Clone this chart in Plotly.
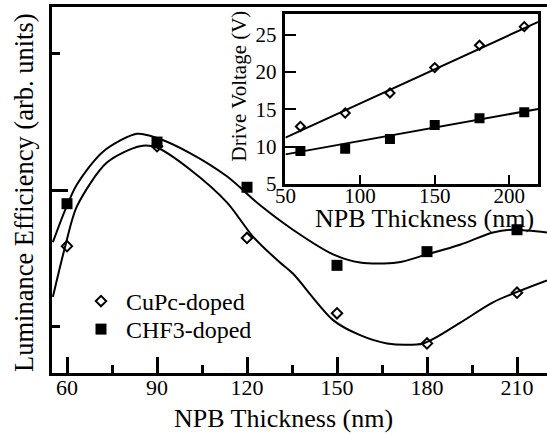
import plotly.graph_objects as go

# ---------------- data (main plot) ----------------
thickness = [60, 90, 120, 150, 180, 210]
cupc_eff = [1.59, 2.32, 1.65, 1.10, 0.88, 1.25]
chf3_eff = [1.90, 2.35, 2.02, 1.45, 1.55, 1.71]

# fitted curves
cupc_fit_x = [55.3, 59.3, 63.3, 73.3, 84.3, 90, 101, 113.3, 122, 131, 135.3, 148.7, 157.7, 166.7, 178.7, 191, 202, 220]
cupc_fit_y = [1.22, 1.58, 1.88, 2.20, 2.32, 2.31, 2.15, 1.91, 1.66, 1.47, 1.39, 1.05, 0.94, 0.88, 0.88, 1.03, 1.18, 1.34]
chf3_fit_x = [55.3, 59.3, 63.3, 72, 83.3, 90, 101, 113.3, 124.3, 135.3, 148.7, 157.7, 170, 180, 191, 202, 208.7, 220]
chf3_fit_y = [1.62, 1.85, 2.04, 2.28, 2.41, 2.38, 2.27, 2.10, 1.89, 1.71, 1.53, 1.47, 1.47, 1.53, 1.60, 1.69, 1.71, 1.69]

# ---------------- data (inset) ----------------
inset_thickness = [60, 90, 120, 150, 180, 210]
cupc_voltage = [12.7, 14.5, 17.2, 20.6, 23.6, 26.1]
chf3_voltage = [9.4, 9.7, 11.0, 12.9, 13.8, 14.6]
inset_fit_x = [50, 219.4]
cupc_voltage_fit = [11.2, 26.75]
chf3_voltage_fit = [8.95, 15.05]

main_xticks = [60, 90, 120, 150, 180, 210]
main_xminor = [75, 105, 135, 165, 195]
inset_xticks = [50, 100, 150, 200]
inset_yticks = [5, 10, 15, 20, 25]

FONT = "Liberation Serif, Times New Roman, serif"
W, H = 547, 435
ML, MR, MT, MB = 52, 0, 7, 62
PW, PH = W - ML - MR, H - MT - MB


def px_x(p):
    return (p - ML) / PW


def px_y(p):
    return (H - MB - p) / PH


fig = go.Figure()

# main curves
fig.add_trace(go.Scatter(x=cupc_fit_x, y=cupc_fit_y, mode="lines", line=dict(color="black", width=2, shape="spline", smoothing=0.8),
                         showlegend=False, hoverinfo="skip"))
fig.add_trace(go.Scatter(x=chf3_fit_x, y=chf3_fit_y, mode="lines", line=dict(color="black", width=2, shape="spline", smoothing=0.8),
                         showlegend=False, hoverinfo="skip"))
fig.add_trace(go.Scatter(x=thickness, y=cupc_eff, mode="markers", name="CuPc-doped", legend="legend",
                         marker=dict(symbol="diamond-open", size=8, color="black", line=dict(width=2, color="black"))))
fig.add_trace(go.Scatter(x=thickness, y=chf3_eff, mode="markers", name="CHF3-doped", legend="legend2",
                         marker=dict(symbol="square", size=11, color="black")))

# inset
fig.add_trace(go.Scatter(x=inset_fit_x, y=cupc_voltage_fit, mode="lines", xaxis="x2", yaxis="y2",
                         line=dict(color="black", width=2), showlegend=False, hoverinfo="skip"))
fig.add_trace(go.Scatter(x=inset_fit_x, y=chf3_voltage_fit, mode="lines", xaxis="x2", yaxis="y2",
                         line=dict(color="black", width=2), showlegend=False, hoverinfo="skip"))
fig.add_trace(go.Scatter(x=inset_thickness, y=cupc_voltage, mode="markers", xaxis="x2", yaxis="y2", showlegend=False,
                         marker=dict(symbol="diamond-open", size=7, color="black", line=dict(width=2, color="black"))))
fig.add_trace(go.Scatter(x=inset_thickness, y=chf3_voltage, mode="markers", xaxis="x2", yaxis="y2", showlegend=False,
                         marker=dict(symbol="square", size=10, color="black")))

legend_style = dict(xanchor="left", yanchor="top", bgcolor="rgba(0,0,0,0)",
                    font=dict(size=24, family=FONT), itemwidth=40)

fig.update_layout(
    width=W, height=H,
    margin=dict(l=ML, r=MR, t=MT, b=MB, pad=0),
    paper_bgcolor="white", plot_bgcolor="rgba(0,0,0,0)",
    font=dict(family=FONT, color="black", size=22),
    xaxis=dict(range=[55, 220], domain=[0, 1], showline=True, linewidth=3, linecolor="black", mirror=True,
               ticks="inside", ticklen=16, tickwidth=2.5, tickcolor="black", tickvals=main_xticks,
               minor=dict(tickvals=main_xminor, ticks="inside", ticklen=8, tickwidth=2.5, tickcolor="black"),
               tickfont=dict(size=22, family=FONT), showgrid=False, zeroline=False, ticklabelstandoff=-7),
    yaxis=dict(range=[0.664, 3.336], domain=[0, 1], showline=True, linewidth=3, linecolor="black", mirror=False,
               ticks="inside", ticklen=16, tickwidth=2.5, tickcolor="black", tickvals=[2],
               minor=dict(tickvals=[1, 3], ticks="inside", ticklen=8, tickwidth=2.5, tickcolor="black"),
               showticklabels=False, showgrid=False, zeroline=False),
    xaxis2=dict(anchor="y2", domain=[px_x(285.4), px_x(538.3)], range=[49.95, 219.4], showline=True, linewidth=2.5,
                linecolor="black", mirror=True, ticks="inside", ticklen=9, tickwidth=2, tickcolor="black",
                tickvals=inset_xticks, tickfont=dict(size=21, family=FONT), showgrid=False, zeroline=False,
                ticklabelstandoff=-9),
    yaxis2=dict(anchor="x2", domain=[px_y(184), px_y(14)], range=[4.97, 27.8], showline=True, linewidth=2.5,
                linecolor="black", mirror=True, ticks="inside", ticklen=11, tickwidth=2, tickcolor="black",
                tickvals=inset_yticks, tickfont=dict(size=21, family=FONT), showgrid=False, zeroline=False,
                ticklabelstandoff=2),
    legend=dict(x=px_x(76), y=px_y(279), **legend_style),
    legend2=dict(x=px_x(76), y=px_y(307), **legend_style),
    showlegend=True,
    annotations=[
        dict(text="NPB Thickness (nm)", xref="paper", yref="paper", x=px_x(283.5), y=px_y(418),
             xanchor="center", yanchor="middle", showarrow=False, font=dict(size=26, family=FONT)),
        dict(text="Luminance Efficiency (arb. units)", xref="paper", yref="paper", x=px_x(24), y=px_y(193),
             xanchor="center", yanchor="middle", textangle=-90, showarrow=False, font=dict(size=26.5, family=FONT)),
        dict(text="NPB Thickness (nm)", xref="paper", yref="paper", x=px_x(424), y=px_y(218),
             xanchor="center", yanchor="middle", showarrow=False, font=dict(size=26, family=FONT)),
        dict(text="Drive Voltage (V)", xref="paper", yref="paper", x=px_x(239), y=px_y(86.5),
             xanchor="center", yanchor="middle", textangle=-90, showarrow=False, font=dict(size=21, family=FONT)),
    ],
)

fig.write_html("out.html", config={"displayModeBar": False},
               post_script="document.body.style.margin='0';document.body.style.padding='0';")
